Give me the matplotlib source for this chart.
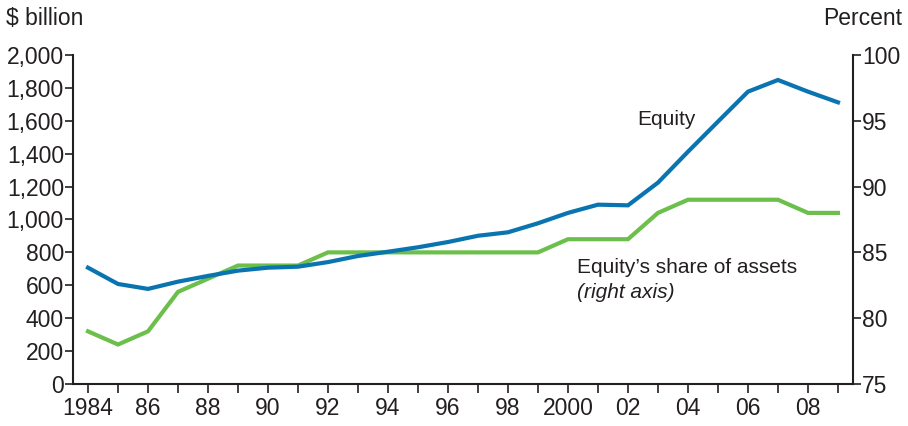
"""
Equity and equity's share of assets, 1984-2009 (dual axis line chart).
Output: out.png
"""
import matplotlib
matplotlib.use("Agg")
import matplotlib.pyplot as plt

plt.rcParams["font.family"] = ["Liberation Sans", "DejaVu Sans"]

years = list(range(1984, 2010))
equity = [707, 608, 578, 622, 657, 689, 707, 713, 741, 778, 804, 831, 863, 901,
          922, 977, 1040, 1090, 1086, 1224, 1412, 1595, 1777, 1848, 1777, 1712]
equity_share = [79, 78, 79, 82, 83, 84, 84, 84, 85, 85, 85, 85, 85, 85,
                85, 85, 86, 86, 86, 88, 89, 89, 89, 89, 88, 88]
tick_years = [1984, 1986, 1988, 1990, 1992, 1994, 1996, 1998, 2000, 2002, 2004, 2006, 2008]
tick_labels = ["1984", "86", "88", "90", "92", "94", "96", "98", "2000", "02", "04", "06", "08"]

BLUE = "#0A74B0"
GREEN = "#6BBF4A"
TXT = "#231F20"


def main() -> None:
    fig = plt.figure(figsize=(9.08, 4.26), dpi=100)
    ax = fig.add_axes([0.0804, 0.0986, 0.859, 0.7724])
    ax2 = ax.twinx()

    ax.plot(years, equity, color=BLUE, lw=3, solid_joinstyle="miter", zorder=3)
    ax2.plot(years, equity_share, color=GREEN, lw=3, solid_joinstyle="miter", zorder=2)
    ax.set_zorder(ax2.get_zorder() + 1)
    ax.patch.set_visible(False)

    ax.set_xlim(1983.5, 2009.5)
    ax.set_ylim(0, 2000)
    ax2.set_ylim(75, 100)

    ax.set_yticks(range(0, 2001, 200))
    ax.set_yticklabels([f"{v:,}" for v in range(0, 2001, 200)])
    ax2.set_yticks(range(75, 101, 5))
    ax.set_xticks(years)
    ax.set_xticklabels([tick_labels[tick_years.index(y)] if y in tick_years else "" for y in years])

    for a in (ax, ax2):
        a.spines["top"].set_visible(False)
        for s in a.spines.values():
            s.set_linewidth(1.5)
            s.set_color(TXT)
        a.tick_params(direction="out", length=5.5, width=1.2, colors=TXT,
                      labelsize=16.5, labelcolor=TXT, pad=1)
    ax.spines["right"].set_visible(False)
    ax2.spines["left"].set_visible(False)
    ax2.spines["bottom"].set_visible(False)
    ax.tick_params(axis="x", length=6.5, pad=3)

    fig.text(0.007, 0.93, "$ billion", fontsize=16.5, color=TXT, ha="left", va="bottom")
    fig.text(0.994, 0.93, "Percent", fontsize=16.5, color=TXT, ha="right", va="bottom")

    ax.text(2002.3, 1610, "Equity", fontsize=15, color=TXT, ha="left", va="center")
    ax.text(2000.3, 710, "Equity\u2019s share of assets", fontsize=15, color=TXT,
            ha="left", va="center")
    ax.text(2000.3, 555, "(right axis)", fontsize=15, color=TXT, style="italic",
            ha="left", va="center")

    fig.savefig("out.png", dpi=100)
    plt.close(fig)


if __name__ == "__main__":
    main()
